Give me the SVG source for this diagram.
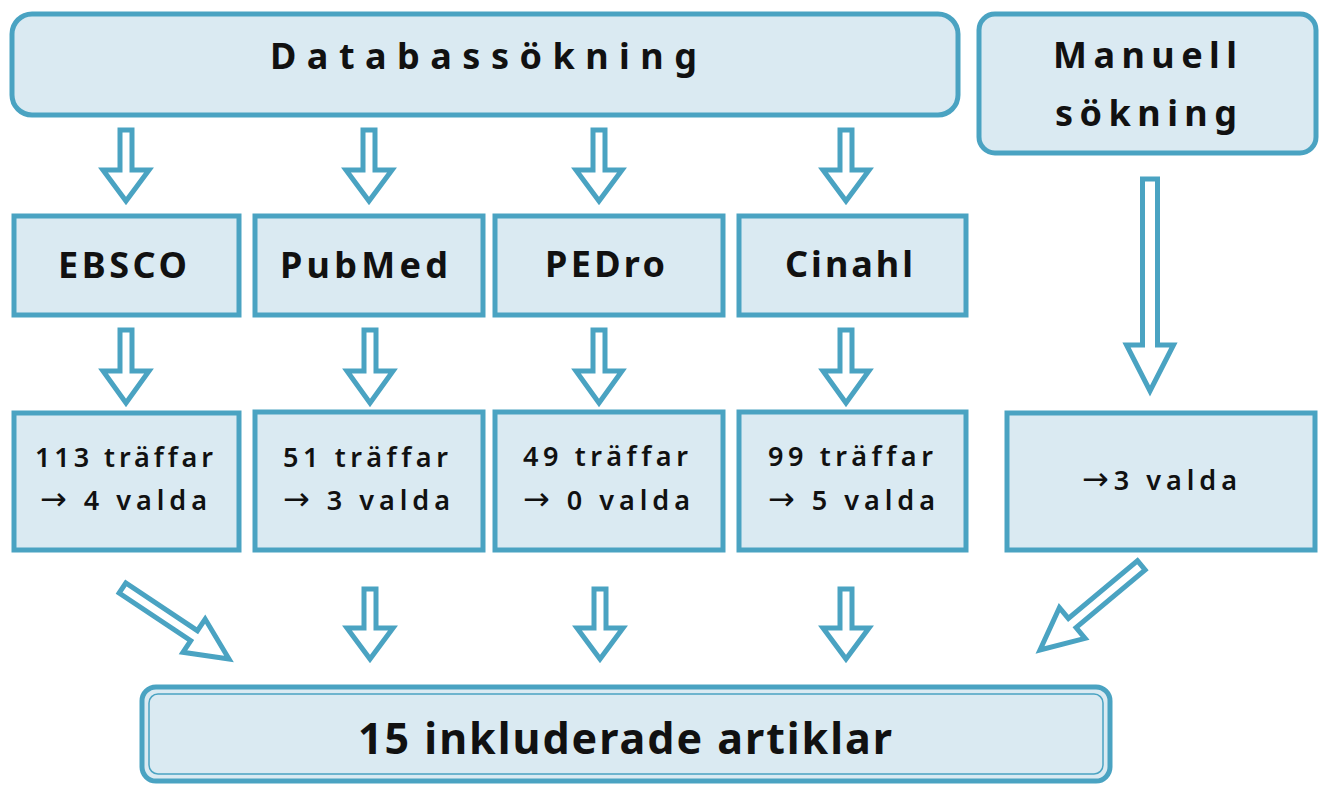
<svg xmlns="http://www.w3.org/2000/svg" width="1320" height="785" viewBox="0 0 1320 785">
<style>
.box{fill:#daeaf2;stroke:#4aa3c2;stroke-width:5}
.inner{fill:none;stroke:#4aa3c2;stroke-width:1.5}
.arr{fill:#ffffff;stroke:#4aa3c2;stroke-width:5;stroke-linejoin:miter}
text{font-family:"Noto Sans","Open Sans","DejaVu Sans",sans-serif;font-weight:700;fill:#111;font-variant-ligatures:none}
.big{font-size:36px}
.mid{font-size:27px;font-weight:600}
.fin{font-size:43px}
.ar{font-family:"DejaVu Sans",sans-serif;font-weight:400;font-size:32px}
</style>
<rect width="1320" height="785" fill="#ffffff"/>
<g id="databassokning">
<rect class="box" x="12" y="14" width="946" height="101" rx="20"/>
<text class="big" x="270" y="69" textLength="427" lengthAdjust="spacing">Databassökning</text>
</g>
<g id="manuell">
<rect class="box" x="979" y="14" width="337" height="139" rx="16"/>
<text class="big" x="1053" y="68" textLength="184" lengthAdjust="spacing">Manuell</text>
<text class="big" x="1055" y="126" textLength="182" lengthAdjust="spacing">sökning</text>
</g>
<g id="ebsco">
<rect class="box" x="14" y="216" width="225" height="99"/>
<text class="big" x="58" y="278" textLength="129" lengthAdjust="spacing">EBSCO</text>
</g>
<g id="pubmed">
<rect class="box" x="255" y="216" width="228" height="99"/>
<text class="big" x="280" y="278" textLength="168" lengthAdjust="spacing">PubMed</text>
</g>
<g id="pedro">
<rect class="box" x="495" y="216" width="228" height="99"/>
<text class="big" x="545" y="277" textLength="120" lengthAdjust="spacing">PEDro</text>
</g>
<g id="cinahl">
<rect class="box" x="739" y="216" width="227" height="99"/>
<text class="big" x="785" y="277" textLength="128" lengthAdjust="spacing">Cinahl</text>
</g>
<g id="ebsco-res">
<rect class="box" x="14" y="413" width="225" height="137"/>
<text class="mid" x="35" y="467" textLength="178" lengthAdjust="spacing">113 träffar</text>
<text class="mid" x="40" y="510" textLength="167" lengthAdjust="spacing"><tspan class="ar">→</tspan> 4 valda</text>
</g>
<g id="pubmed-res">
<rect class="box" x="255" y="412" width="228" height="138"/>
<text class="mid" x="283" y="467" textLength="165" lengthAdjust="spacing">51 träffar</text>
<text class="mid" x="283" y="510" textLength="167" lengthAdjust="spacing"><tspan class="ar">→</tspan> 3 valda</text>
</g>
<g id="pedro-res">
<rect class="box" x="495" y="412" width="228" height="138"/>
<text class="mid" x="523" y="466" textLength="165" lengthAdjust="spacing">49 träffar</text>
<text class="mid" x="523" y="510" textLength="167" lengthAdjust="spacing"><tspan class="ar">→</tspan> 0 valda</text>
</g>
<g id="cinahl-res">
<rect class="box" x="739" y="412" width="227" height="138"/>
<text class="mid" x="768" y="466" textLength="165" lengthAdjust="spacing">99 träffar</text>
<text class="mid" x="768" y="510" textLength="167" lengthAdjust="spacing"><tspan class="ar">→</tspan> 5 valda</text>
</g>
<g id="manuell-res">
<rect class="box" x="1007" y="413" width="308" height="137"/>
<text class="mid" x="1082" y="490" textLength="155" lengthAdjust="spacing"><tspan class="ar">→</tspan>3 valda</text>
</g>
<g id="result">
<rect class="box" x="142" y="687" width="968" height="94" rx="14"/>
<rect class="inner" x="149" y="694" width="954" height="80" rx="9"/>
<text class="fin" x="358" y="754" textLength="534" lengthAdjust="spacing">15 inkluderade artiklar</text>
</g>
<g id="connectors">
<path class="arr" transform="translate(126,201)" d="M-6,-71 L6,-71 L6,-31 L23,-31 L0,0 L-23,-31 L-6,-31 Z"/>
<path class="arr" transform="translate(369,201)" d="M-6,-71 L6,-71 L6,-31 L23,-31 L0,0 L-23,-31 L-6,-31 Z"/>
<path class="arr" transform="translate(599,201)" d="M-6,-71 L6,-71 L6,-31 L23,-31 L0,0 L-23,-31 L-6,-31 Z"/>
<path class="arr" transform="translate(846,201)" d="M-6,-71 L6,-71 L6,-31 L23,-31 L0,0 L-23,-31 L-6,-31 Z"/>
<path class="arr" transform="translate(126,403)" d="M-6,-73 L6,-73 L6,-32 L23,-32 L0,0 L-23,-32 L-6,-32 Z"/>
<path class="arr" transform="translate(370,403)" d="M-6,-73 L6,-73 L6,-32 L23,-32 L0,0 L-23,-32 L-6,-32 Z"/>
<path class="arr" transform="translate(599,403)" d="M-6,-73 L6,-73 L6,-32 L23,-32 L0,0 L-23,-32 L-6,-32 Z"/>
<path class="arr" transform="translate(846,403)" d="M-6,-73 L6,-73 L6,-32 L23,-32 L0,0 L-23,-32 L-6,-32 Z"/>
<path class="arr" transform="translate(1150,391)" d="M-7.5,-212 L7.5,-212 L7.5,-46 L23.5,-46 L0,0 L-23.5,-46 L-7.5,-46 Z"/>
<path class="arr" transform="translate(370,659)" d="M-6,-70 L6,-70 L6,-31 L23,-31 L0,0 L-23,-31 L-6,-31 Z"/>
<path class="arr" transform="translate(600,659)" d="M-6,-70 L6,-70 L6,-31 L23,-31 L0,0 L-23,-31 L-6,-31 Z"/>
<path class="arr" transform="translate(846,659)" d="M-6,-70 L6,-70 L6,-31 L23,-31 L0,0 L-23,-31 L-6,-31 Z"/>
<path class="arr" transform="translate(229,659) rotate(-56.3)" d="M-6,-128 L6,-128 L6,-42 L20,-42 L0,0 L-20,-42 L-6,-42 Z"/>
<path class="arr" transform="translate(1040,650) rotate(50.1)" d="M-6,-132 L6,-132 L6,-42 L20,-42 L0,0 L-20,-42 L-6,-42 Z"/>
</g>
</svg>
